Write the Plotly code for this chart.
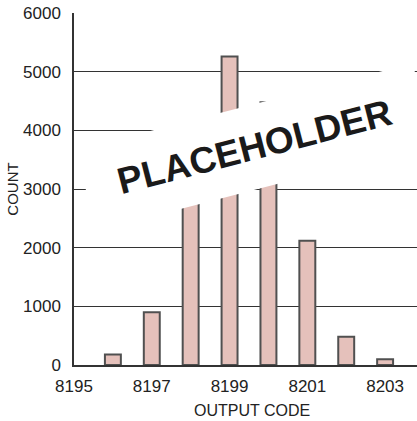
import plotly.graph_objects as go

# Histogram of output codes
codes = [8196, 8197, 8198, 8199, 8200, 8201, 8202, 8203]
counts = [180, 900, 3400, 5260, 4480, 2120, 480, 100]

x_ticks = [8195, 8197, 8199, 8201, 8203]
y_ticks = [0, 1000, 2000, 3000, 4000, 5000, 6000]

font_family = "Liberation Sans Narrow, Liberation Sans, Arial, sans-serif"

fig = go.Figure()
fig.add_trace(go.Bar(
    x=codes,
    y=counts,
    width=0.41,
    marker=dict(color="#e5c1bb", line=dict(color="#505050", width=2)),
))

fig.update_layout(
    width=417,
    height=421,
    margin=dict(l=74, r=0, t=13, b=56),
    paper_bgcolor="white",
    plot_bgcolor="white",
    showlegend=False,
    font=dict(family=font_family, size=17, color="#222"),
    xaxis=dict(
        range=[8195, 8203.82],
        tickvals=x_ticks,
        ticktext=[str(v) for v in x_ticks],
        showgrid=False,
        zeroline=False,
        showline=True,
        linecolor="#333",
        linewidth=1.5,
        ticks="",
        ticklabelstandoff=5,
    ),
    yaxis=dict(
        range=[0, 6000],
        tickvals=y_ticks,
        ticktext=[str(v) for v in y_ticks],
        showgrid=True,
        gridcolor="#333",
        gridwidth=1,
        zeroline=False,
        showline=True,
        linecolor="#333",
        linewidth=1.5,
        ticks="",
        ticklabelstandoff=8,
        title=dict(text="COUNT", font=dict(size=15), standoff=1),
    ),
)

# x-axis title
fig.add_annotation(
    text="OUTPUT CODE", xref="paper", yref="paper",
    x=0.5175, y=-0.1, xanchor="center", yanchor="top",
    showarrow=False, font=dict(size=16, family=font_family, color="#222"),
)

# Rotated white placeholder banner across the plot
fig.add_annotation(
    text="<b>PLACEHOLDER</b>", xref="x", yref="y",
    x=8199.63, y=3720, xanchor="center", yanchor="middle",
    showarrow=False, textangle=-14.5,
    width=345, height=80, bgcolor="white",
    font=dict(size=37, family=font_family, color="#1a1a1a"),
)

fig.write_html("out.html")
